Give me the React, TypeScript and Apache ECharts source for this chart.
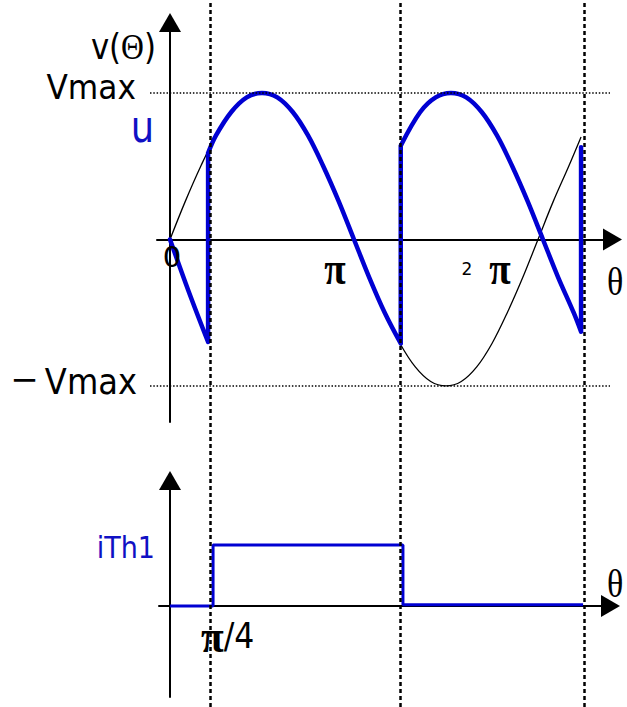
import React, { useEffect, useRef } from "react";
import * as echarts from "echarts";

// Angles are given in multiples of π on every x axis.

// Supply voltage v(θ) (per unit of Vmax)
const sineTheta = [0, 0.083, 0.167, 0.25, 0.333, 0.417, 0.5, 0.583, 0.667, 0.75, 0.833, 0.917, 1, 1.083, 1.167, 1.25, 1.333, 1.417, 1.5, 1.583, 1.667, 1.75, 1.833, 1.917, 2, 2.083, 2.167, 2.234];
const sineValue = [0, 0.26, 0.5, 0.71, 0.87, 0.97, 1, 0.97, 0.87, 0.71, 0.5, 0.26, 0, -0.26, -0.5, -0.71, -0.87, -0.97, -1, -0.97, -0.87, -0.71, -0.5, -0.26, 0, 0.26, 0.5, 0.7];

// Output voltage u, drawn piece by piece
const uLeadTheta = [0, 0.1, 0.207];
const uLeadValue = [0, -0.35, -0.7];
const uHump1Theta = [0.207, 0.25, 0.333, 0.417, 0.5, 0.583, 0.667, 0.75, 0.833, 0.917, 1, 1.083, 1.167, 1.254];
const uHump1Value = [0.59, 0.71, 0.87, 0.97, 1, 0.97, 0.87, 0.71, 0.5, 0.26, 0, -0.26, -0.5, -0.71];
const uHump2Theta = [1.254, 1.36, 1.444, 1.527, 1.61, 1.694, 1.777, 1.86, 1.944, 2.027, 2.11, 2.194, 2.234];
const uHump2Value = [0.64, 0.87, 0.97, 1, 0.97, 0.87, 0.71, 0.5, 0.26, 0, -0.26, -0.5, -0.63];
// Commutation instants: u jumps from the low value to the high value
const uJumpTheta = [0.207, 1.254, 2.234];
const uJumpLow = [-0.7, -0.71, -0.63];
const uJumpHigh = [0.59, 0.64, 0.63];

// Thyristor current iTh1 (per unit)
const iThTheta = [0, 0.234, 0.234, 1.266, 1.266, 2.245];
const iThValue = [0, 0, 1, 1, 0.02, 0.02];

// Firing instants (vertical dashed guides) and ±Vmax guides
const firingTheta = [0.223, 1.255, 2.25];
const vmaxLevels = [1, -1];

const SANS = "'DejaVu Sans', 'Noto Sans', sans-serif";
const SERIF = "'Liberation Serif', 'DejaVu Serif', serif";
const BLUE = "#0000d2";
const BLUE_TEXT = "#1010c4";

const GAP: [string, string] = ["-", "-"];

function pairs(xs: number[], ys: number[]) {
  return xs.map((x, i) => [x, ys[i]]);
}

function buildU() {
  const out: any[] = [];
  out.push(...pairs(uLeadTheta, uLeadValue), GAP);
  uJumpTheta.forEach((t, i) => {
    out.push([t, uJumpLow[i]], [t, uJumpHigh[i]], GAP);
  });
  out.push(...pairs(uHump1Theta, uHump1Value), GAP);
  out.push(...pairs(uHump2Theta, uHump2Value));
  return out;
}

function axisLine(show: boolean) {
  return {
    show,
    onZero: true,
    symbol: ["none", "triangle"],
    symbolSize: [22, 19],
    lineStyle: { color: "#000", width: 2 },
  };
}

function axis(gridIndex: number, min: number, max: number, show: boolean) {
  return {
    type: "value",
    gridIndex,
    min,
    max,
    show,
    axisLine: axisLine(show),
    axisTick: { show: false },
    axisLabel: { show: false },
    splitLine: { show: false },
  };
}

function guideSeries(axisIndex: number, lineStyle: any, data: any[]) {
  return {
    type: "line",
    xAxisIndex: axisIndex,
    yAxisIndex: axisIndex,
    data: [[0, 0]],
    symbol: "none",
    clip: false,
    silent: true,
    lineStyle: { opacity: 0 },
    markLine: {
      silent: true,
      symbol: ["none", "none"],
      label: { show: false },
      lineStyle,
      data,
    },
  };
}

function label(x: number, y: number, text: string, font: string, size: number, fill: string, align: string, scaleX = 1, extra: any = {}) {
  return {
    type: "text",
    x,
    y,
    scaleX,
    z: 10,
    style: {
      text,
      fontFamily: font,
      fontSize: size,
      fill,
      align,
      verticalAlign: "middle",
      textAlign: align,
      textVerticalAlign: "middle",
      ...extra,
    },
  };
}

export default function App() {
  const ref = useRef<HTMLDivElement>(null);

  useEffect(() => {
    if (!ref.current) return;
    const chart = echarts.init(ref.current, null, { renderer: "svg" });

    const option: any = {
      animation: false,
      backgroundColor: "#fff",
      grid: [
        // upper plot: v(θ) and u
        { left: 157, right: 14.5, top: 22.5, bottom: 285 },
        // lower plot: iTh1
        { left: 159, right: 16.5, top: 480.5, bottom: 10 },
        // full-height overlay for the firing-angle guides
        { left: 157, right: 14.5, top: 0, bottom: 0 },
        // overlay for the ±Vmax guides, same vertical scale as the upper plot
        { left: 150, right: 17, top: 22.5, bottom: 285 },
      ],
      xAxis: [
        axis(0, -0.0707, 2.4049, true),
        axis(1, -0.0598, 2.394, true),
        axis(2, -0.0707, 2.4049, false),
        axis(3, 0, 1, false),
      ],
      yAxis: [
        axis(0, -1.246, 1.481, true),
        axis(1, -1.492, 2.057, true),
        axis(2, 0, 1, false),
        axis(3, -1.246, 1.481, false),
      ],
      series: [
        guideSeries(2, { type: [4, 3], color: "#000", width: 2.5 },
          firingTheta.map((t) => ({ xAxis: t }))),
        guideSeries(3, { type: [1.5, 1.8], color: "#000", width: 1.5 },
          vmaxLevels.map((v) => ({ yAxis: v }))),
        {
          name: "v",
          type: "line",
          xAxisIndex: 0,
          yAxisIndex: 0,
          data: pairs(sineTheta, sineValue),
          smooth: 0.35,
          symbol: "none",
          lineStyle: { color: "#000", width: 1.3 },
        },
        {
          name: "u",
          type: "line",
          xAxisIndex: 0,
          yAxisIndex: 0,
          data: buildU(),
          smooth: 0.35,
          connectNulls: false,
          symbol: "none",
          lineStyle: { color: BLUE, width: 4.5, cap: "round", join: "round" },
        },
        {
          name: "iTh1",
          type: "line",
          xAxisIndex: 1,
          yAxisIndex: 1,
          data: pairs(iThTheta, iThValue),
          symbol: "none",
          lineStyle: { color: BLUE, width: 3 },
        },
      ],
      graphic: [
        label(156, 47, "{a|v(}{b|Θ}{a|)}", SANS, 35, "#000", "right", 0.88, {
          rich: {
            a: { fontFamily: SANS, fontSize: 35, fill: "#000" },
            b: { fontFamily: SERIF, fontSize: 36, fill: "#000" },
          },
        }),
        label(136, 88, "Vmax", SANS, 34, "#000", "right", 0.92),
        label(142.5, 127, "u", SANS, 44, BLUE_TEXT, "center", 0.84),
        label(172, 257, "0", SANS, 29, "#000", "center"),
        label(335, 268, "π", SERIF, 46, "#000", "center", 0.85, { fontWeight: "bold" }),
        label(467, 269, "2", SANS, 17, "#000", "center"),
        label(500, 268, "π", SERIF, 46, "#000", "center", 0.85, { fontWeight: "bold" }),
        label(607, 282, "θ", SERIF, 40, "#000", "left", 0.85),
        label(24.5, 379, "−", SANS, 34, "#000", "center"),
        label(137, 382, "Vmax", SANS, 35, "#000", "right", 0.92),
        label(155, 548, "iTh1", SANS, 30, BLUE_TEXT, "right", 0.9),
        label(201, 636, "{p|π}{s|/4}", SANS, 34, "#000", "left", 0.9, {
          rich: {
            p: { fontFamily: SERIF, fontSize: 46, fontWeight: "bold", fill: "#000" },
            s: { fontFamily: SANS, fontSize: 35, fill: "#000" },
          },
        }),
        label(607, 584, "θ", SERIF, 40, "#000", "left", 0.85),
      ],
    };

    chart.setOption(option);
    return () => chart.dispose();
  }, []);

  return (
    <div
      ref={ref}
      style={{ position: "absolute", left: 0, top: 0, width: 627, height: 707 }}
    />
  );
}
